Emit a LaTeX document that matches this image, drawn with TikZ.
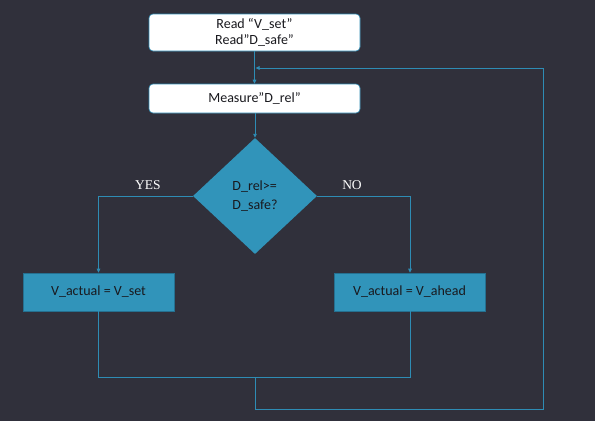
\documentclass[tikz,border=0pt]{standalone}
\usepackage{fontspec}
\setmainfont{Carlito}
\newfontfamily\serifyes{Liberation Serif}
\usetikzlibrary{shapes.geometric,arrows.meta}
\definecolor{bgc}{RGB}{48,48,59}
\definecolor{teal}{RGB}{49,148,186}
\definecolor{tealine}{RGB}{46,140,180}
\definecolor{txt}{RGB}{25,25,30}
\tikzset{
  whitebox/.style={draw=tealine, line width=0.6pt, fill=white, rounded corners=4pt, minimum width=211pt, align=center, text=txt, font=\fontsize{14}{16}\selectfont, inner sep=0pt},
  tealbox/.style={draw=tealine!80!black, line width=0.6pt, fill=teal, minimum width=151pt, minimum height=38pt, align=center, text=txt, font=\fontsize{14}{16}\selectfont, inner sep=0pt},
  decision/.style={diamond, fill=teal, minimum width=124pt, minimum height=116pt, inner sep=0pt, aspect=1.07, align=left, text=txt, font=\fontsize{14}{19}\selectfont},
  conn/.style={draw=tealine, line width=0.9pt},
  arr/.style={conn, -{Triangle[length=4pt,width=3.5pt]}},
  lbl/.style={text=white, font=\serifyes\fontsize{13.5}{15}\selectfont}
}
\begin{document}
\begin{tikzpicture}[x=1pt,y=-1pt]
\fill[bgc] (0,0) rectangle (595,421);
\useasboundingbox (0,0) rectangle (595,421);
\node[whitebox, minimum height=37pt] (read) at (254.5,32.5) {Read “V\_set”\\Read”D\_safe”};
\node[whitebox, minimum height=29pt] (meas) at (254.5,98.5) {Measure”D\_rel”};
\node[decision] (dec) at (255,196) {D\_rel>=\\D\_safe?};
\node[tealbox] (left) at (98.5,292) {V\_actual = V\_set};
\node[tealbox] (right) at (409.5,292) {V\_actual = V\_ahead};
\node[lbl] (yes) at (148,185) {YES};
\node[lbl] (no) at (352,185) {NO};
\coordinate (lc) at (98.5,196);
\coordinate (rc) at (410,196);
\coordinate (m) at (255,377);
\coordinate (b) at (255,409);
\coordinate (r) at (543,68);
\coordinate (entry) at (255.5,68);
\draw[arr] (read.south -| meas.north) -- (meas.north);
\draw[arr] (meas.south -| dec.north) -- (dec.north);
\draw[arr] (dec.west) -- (lc) -- (left.north);
\draw[arr] (dec.east) -- (rc) -- (rc |- right.north);
\draw[conn] (left.south) |- (m);
\draw[conn] (right.south -| rc) |- (m);
\draw[arr] (m) -- (b) -| (r) -- (entry);
\end{tikzpicture}
\end{document}
